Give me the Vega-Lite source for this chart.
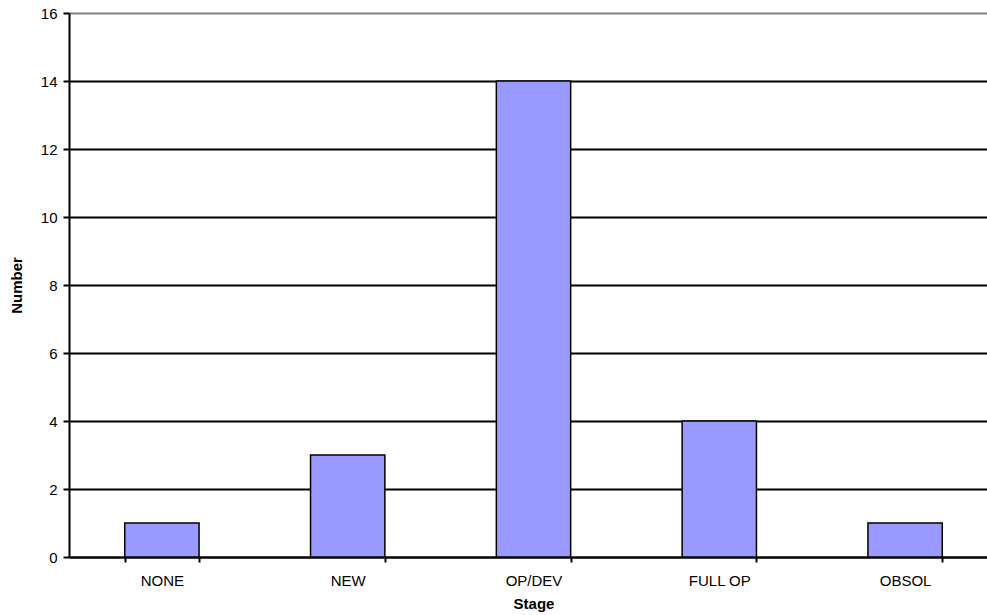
{
  "$schema": "https://vega.github.io/schema/vega-lite/v6.json",
  "autosize": {"type": "none"},
  "padding": {"left": 69, "top": 13, "right": 0, "bottom": 58},
  "width": 929,
  "height": 544,
  "background": "white",
  "data": {"values": [
    {"Stage": "NONE", "Number": 1},
    {"Stage": "NEW", "Number": 3},
    {"Stage": "OP/DEV", "Number": 14},
    {"Stage": "FULL OP", "Number": 4},
    {"Stage": "OBSOL", "Number": 1}
  ]},
  "config": {
    "view": {"stroke": null},
    "font": "Liberation Sans"
  },
  "mark": {"type": "bar", "fill": "#9999FF", "stroke": "black", "strokeWidth": 1.5},
  "encoding": {
    "x": {
      "field": "Stage", "type": "nominal", "sort": null,
      "scale": {"paddingInner": 0.6, "paddingOuter": 0.3},
      "axis": {
        "labelAngle": 0, "labelFont": "Liberation Sans", "labelFontSize": 15, "labelColor": "black",
        "labelPadding": 11,
        "title": "Stage", "titleFont": "Liberation Sans", "titleFontSize": 15, "titleFontWeight": "bold",
        "titleColor": "black", "titlePadding": 8,
        "domainColor": "black", "domainWidth": 2,
        "ticks": true, "tickBand": "extent", "tickColor": "black", "tickWidth": 2, "tickSize": 5,
        "grid": false
      }
    },
    "y": {
      "field": "Number", "type": "quantitative",
      "scale": {"domain": [0, 16], "nice": false},
      "axis": {
        "values": [0, 2, 4, 6, 8, 10, 12, 14, 16],
        "labelFont": "Liberation Sans", "labelFontSize": 15, "labelColor": "black", "labelPadding": 6,
        "title": "Number", "titleFont": "Liberation Sans", "titleFontSize": 15, "titleFontWeight": "bold",
        "titleColor": "black", "titlePadding": 16,
        "domainColor": "black", "domainWidth": 2,
        "tickColor": "black", "tickWidth": 2, "tickSize": 6,
        "grid": true,
        "gridColor": {"condition": {"test": "datum.value == 16", "value": "#808080"}, "value": "black"},
        "gridWidth": 2, "gridOpacity": 1
      }
    }
  }
}
